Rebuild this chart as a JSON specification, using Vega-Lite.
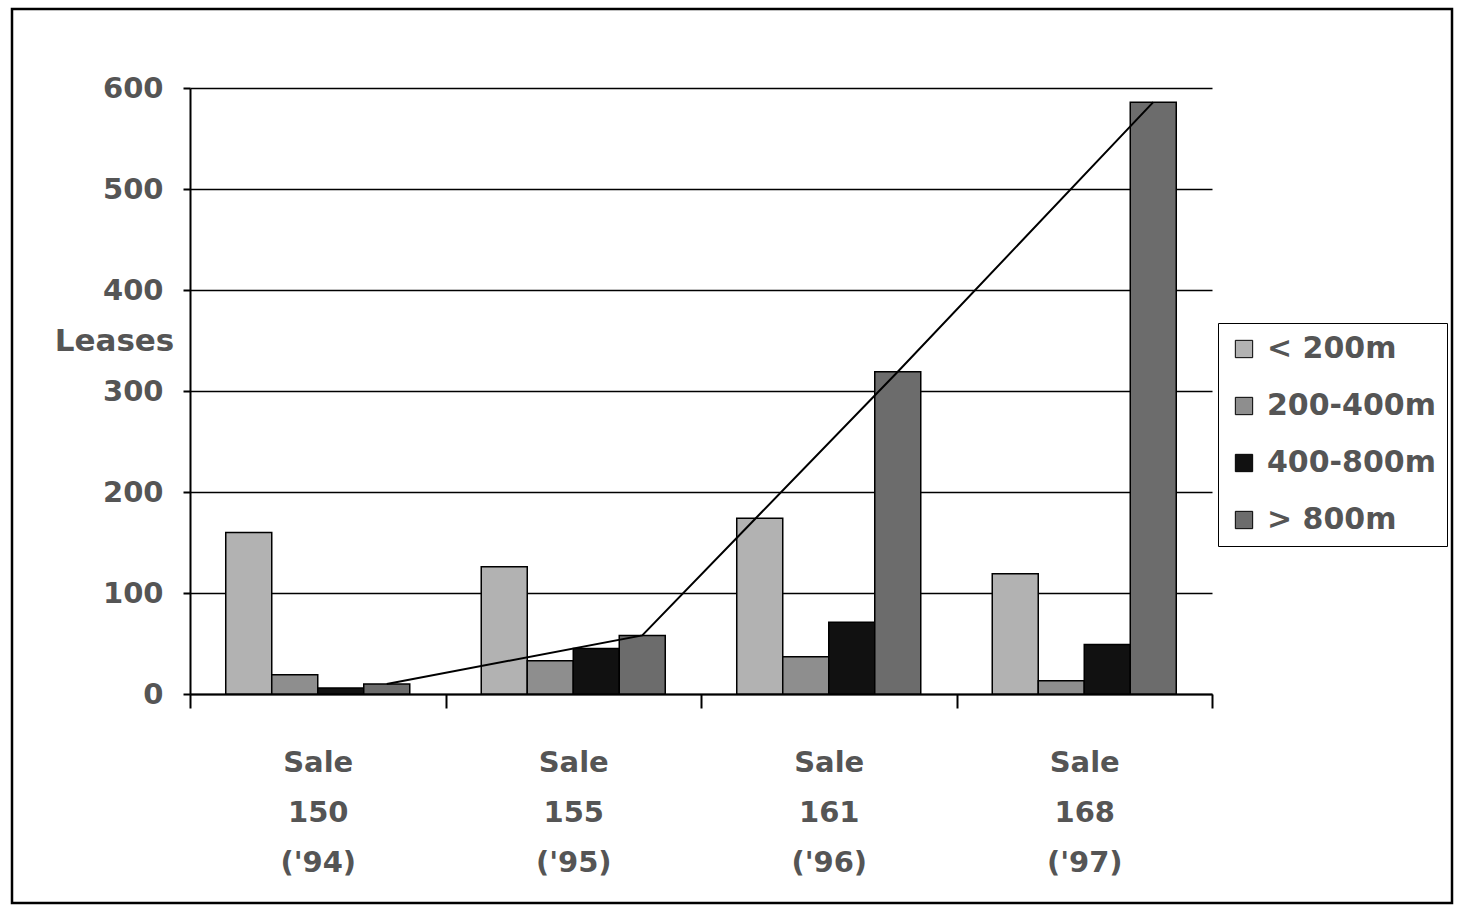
{
  "$schema": "https://vega.github.io/schema/vega-lite/v6.json",
  "width": 1022,
  "height": 606,
  "autosize": {"type": "none"},
  "padding": {"left": 190, "top": 88, "right": 245, "bottom": 212},
  "background": "white",
  "config": {
    "view": {"stroke": null},
    "font": "DejaVu Sans"
  },
  "data": {
    "values": [
      {"sale": "Sale 150 ('94)", "distance": "< 200m", "leases": 160},
      {"sale": "Sale 150 ('94)", "distance": "200-400m", "leases": 19},
      {"sale": "Sale 150 ('94)", "distance": "400-800m", "leases": 6},
      {"sale": "Sale 150 ('94)", "distance": "> 800m", "leases": 10},
      {"sale": "Sale 155 ('95)", "distance": "< 200m", "leases": 126},
      {"sale": "Sale 155 ('95)", "distance": "200-400m", "leases": 33},
      {"sale": "Sale 155 ('95)", "distance": "400-800m", "leases": 45},
      {"sale": "Sale 155 ('95)", "distance": "> 800m", "leases": 58},
      {"sale": "Sale 161 ('96)", "distance": "< 200m", "leases": 174},
      {"sale": "Sale 161 ('96)", "distance": "200-400m", "leases": 37},
      {"sale": "Sale 161 ('96)", "distance": "400-800m", "leases": 71},
      {"sale": "Sale 161 ('96)", "distance": "> 800m", "leases": 319},
      {"sale": "Sale 168 ('97)", "distance": "< 200m", "leases": 119},
      {"sale": "Sale 168 ('97)", "distance": "200-400m", "leases": 13},
      {"sale": "Sale 168 ('97)", "distance": "400-800m", "leases": 49},
      {"sale": "Sale 168 ('97)", "distance": "> 800m", "leases": 586}
    ]
  },
  "layer": [
    {
      "data": {"values": [{"frame": "outer"}]},
      "mark": {"type": "rect", "fill": null, "stroke": "black", "strokeWidth": 2.5},
      "encoding": {
        "x": {"value": -178},
        "x2": {"value": 1262},
        "y": {"value": -79},
        "y2": {"value": 815}
      }
    },
    {
      "mark": {"type": "bar", "stroke": "black", "strokeWidth": 1.5},
      "encoding": {
        "x": {
          "field": "sale",
          "type": "nominal",
          "sort": null,
          "scale": {"paddingInner": 0, "paddingOuter": 0},
          "axis": {
            "title": null,
            "labelAngle": 0,
            "labelExpr": "split(datum.label, ' ')",
            "labelLineHeight": 50,
            "labelFont": "DejaVu Sans",
            "labelFontSize": 29,
            "labelFontWeight": "bold",
            "labelColor": "#555555",
            "labelPadding": 40,
            "tickBand": "extent",
            "tickSize": 14,
            "tickColor": "black",
            "tickWidth": 2,
            "domainColor": "black",
            "domainWidth": 2,
            "grid": false
          }
        },
        "xOffset": {
          "field": "distance",
          "type": "nominal",
          "sort": ["< 200m", "200-400m", "400-800m", "> 800m"],
          "scale": {"paddingInner": 0, "paddingOuter": 0.777}
        },
        "y": {
          "field": "leases",
          "type": "quantitative",
          "scale": {"domain": [0, 600], "nice": false},
          "axis": {
            "values": [0, 100, 200, 300, 400, 500, 600],
            "grid": true,
            "gridColor": "black",
            "gridWidth": 1.5,
            "gridOpacity": 1,
            "domainColor": "black",
            "domainWidth": 2,
            "tickColor": "black",
            "tickWidth": 2,
            "tickSize": 7,
            "labelPadding": 20,
            "labelFont": "DejaVu Sans",
            "labelFontSize": 29,
            "labelFontWeight": "bold",
            "labelColor": "#555555",
            "title": "Leases",
            "titleAngle": 0,
            "titleX": -76,
            "titleY": 253,
            "titleAlign": "center",
            "titleBaseline": "middle",
            "titleFont": "DejaVu Sans",
            "titleFontSize": 31,
            "titleFontWeight": "bold",
            "titleColor": "#555555"
          }
        },
        "color": {
          "field": "distance",
          "type": "nominal",
          "sort": ["< 200m", "200-400m", "400-800m", "> 800m"],
          "scale": {
            "domain": ["< 200m", "200-400m", "400-800m", "> 800m"],
            "range": ["#b2b2b2", "#8e8e8e", "#111111", "#6c6c6c"]
          },
          "legend": {
            "title": null,
            "orient": "none",
            "legendX": 1028,
            "legendY": 235,
            "fillColor": "white",
            "strokeColor": "black",
            "padding": 11,
            "symbolType": "square",
            "symbolSize": 300,
            "symbolStrokeColor": "black",
            "symbolStrokeWidth": 1,
            "symbolOpacity": 1,
            "labelFont": "DejaVu Sans",
            "labelFontSize": 30,
            "labelFontWeight": "bold",
            "labelColor": "#555555",
            "labelLimit": 400,
            "labelOffset": 8,
            "rowPadding": 27
          }
        }
      }
    },
    {
      "transform": [{"filter": "datum.distance === '> 800m'"}],
      "mark": {"type": "line", "color": "black", "strokeWidth": 2},
      "encoding": {
        "x": {"field": "sale", "type": "nominal", "sort": null},
        "xOffset": {"field": "distance", "type": "nominal", "sort": ["< 200m", "200-400m", "400-800m", "> 800m"]},
        "y": {"field": "leases", "type": "quantitative"}
      }
    }
  ]
}
